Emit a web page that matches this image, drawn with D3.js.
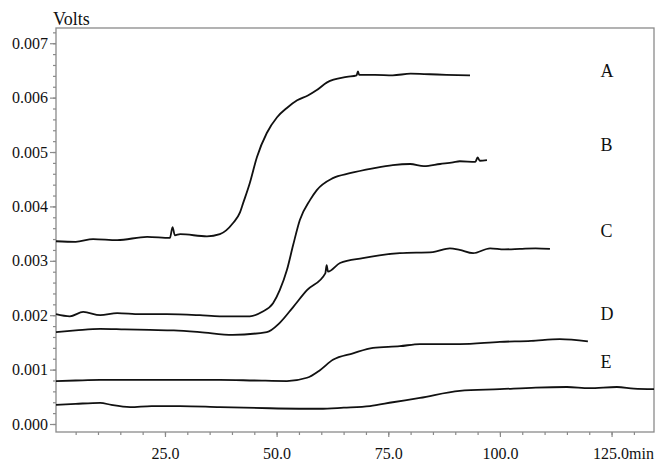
<!DOCTYPE html>
<html>
<head>
<meta charset="utf-8">
<script src="https://cdn.jsdelivr.net/npm/d3@7"></script>
<style>
  body { margin: 0; background: #fff; }
  text { font-family: "Liberation Serif", "DejaVu Serif", serif; fill: #111; }
</style>
</head>
<body>
<div class="chart-frame"></div>
<script>
// time in minutes, signal in millivolts (plotted as volts)
var seriesA = [[0.6,3.36],[5,3.35],[8.9,3.40],[14.3,3.38],[21,3.44],[26.1,3.42],[26.7,3.62],[27.2,3.47],
  [28.4,3.49],[34.4,3.45],[37.3,3.49],[40.2,3.69],[41.8,3.89],[42.5,4.06],[44,4.43],[45.6,4.91],
  [47.8,5.35],[50.1,5.64],[52.3,5.81],[54.6,5.95],[57,6.04],[59,6.14],[61.3,6.28],[65.7,6.38],
  [67.9,6.41],[68.2,6.48],[68.5,6.42],[72,6.42],[76,6.41],[80,6.44],[84.3,6.43],[88,6.42],[93.3,6.41]];
var seriesB = [[0.6,2.02],[3.7,1.98],[6.7,2.06],[10.5,2.00],[14.3,2.04],[19.4,2.02],[25.4,2.02],
  [32.8,2.00],[37.3,1.98],[44,1.98],[46.7,2.06],[49.2,2.22],[50.7,2.46],[52.3,2.83],[53.7,3.29],
  [55.2,3.75],[57.5,4.12],[59,4.30],[62.6,4.52],[66.4,4.61],[71.6,4.70],[76,4.76],[79.9,4.78],
  [83,4.74],[86.6,4.78],[89.5,4.81],[91,4.83],[94.5,4.82],[95,4.90],[95.5,4.84],[97.1,4.85]];
var seriesC = [[0.6,1.69],[5,1.72],[10.5,1.75],[16,1.74],[21.6,1.73],[27,1.72],[32.8,1.69],[40.2,1.64],
  [47.8,1.69],[50.7,1.86],[53.7,2.15],[56.8,2.46],[60.9,2.77],[61.2,2.92],[61.5,2.80],[64.2,2.96],
  [69.3,3.05],[73,3.10],[77.6,3.14],[85,3.16],[88.8,3.23],[91,3.20],[94,3.14],[97.8,3.23],
  [101,3.21],[104.5,3.22],[108,3.23],[111.2,3.22]];
var seriesD = [[0.6,0.79],[5,0.80],[10.5,0.81],[21.6,0.81],[37.3,0.81],[45,0.80],[52.3,0.79],[56.8,0.85],
  [59.7,0.99],[62.6,1.18],[67.1,1.30],[71.6,1.40],[77.6,1.43],[82.1,1.47],[91,1.47],[100,1.51],
  [107,1.53],[113.4,1.56],[119.7,1.52]];
var seriesE = [[0.6,0.35],[5,0.37],[10.5,0.39],[13,0.35],[17.2,0.31],[22,0.33],[28.4,0.33],[37.3,0.31],
  [48.5,0.29],[59.7,0.28],[65,0.30],[70.9,0.33],[76,0.40],[82.1,0.48],[91,0.61],[100,0.64],
  [108,0.67],[115,0.68],[120,0.66],[126.2,0.68],[130,0.65],[134.5,0.64]];

var curveNames = ["A", "B", "C", "D", "E"];
var labelSpots = [[122.5,6.375],[122.5,5.02],[122.5,3.44],[122.5,1.91],[122.5,1.03]];

var yTicks = [0, 0.001, 0.002, 0.003, 0.004, 0.005, 0.006, 0.007];
var xTicks = [25, 50, 75, 100, 125];
var xTickLabels = ["25.0", "50.0", "75.0", "100.0", "125.0min"];

var width = 657, height = 461;
var padL = 56, padR = 654, padT = 28, padB = 432;

var x = d3.scaleLinear().domain([0.6, 134.5]).range([padL, padR]);
var y = d3.scaleLinear().domain([-0.000147, 0.00728]).range([padB, padT]);

var svg = d3.select(".chart-frame")
    .append("svg")
    .attr("width", width)
    .attr("height", height);

// frame
svg.append("rect")
    .attr("x", padL)
    .attr("y", padT)
    .attr("width", padR - padL)
    .attr("height", padB - padT)
    .style("fill", "none")
    .style("stroke", "#8a8a8a")
    .style("stroke-width", 1.3);

// minor ticks
var yMinor = d3.range(0, 37).map(d => d * 0.0002);
var xMinor = d3.range(1, 27).map(d => d * 5);

svg.append("g")
    .attr("transform", `translate(${padL},0)`)
    .call(d3.axisLeft(y).tickValues(yMinor).tickSize(3).tickFormat(""))
    .call(g => g.select(".domain").remove())
    .selectAll("line").style("stroke", "#8a8a8a").style("stroke-width", 1.2);

svg.append("g")
    .attr("transform", `translate(0,${padB})`)
    .call(d3.axisBottom(x).tickValues(xMinor).tickSize(3).tickFormat(""))
    .call(g => g.select(".domain").remove())
    .selectAll("line").style("stroke", "#8a8a8a").style("stroke-width", 1.2);

// major ticks
var yAxis = svg.append("g")
    .attr("transform", `translate(${padL},0)`)
    .call(d3.axisLeft(y).tickValues(yTicks).tickSize(6).tickPadding(2).tickFormat(d3.format(".3f")))
    .call(g => g.select(".domain").remove());
yAxis.selectAll("line").style("stroke", "#8a8a8a").style("stroke-width", 1.2);
yAxis.selectAll("text")
    .style("font-family", '"Liberation Serif", serif')
    .style("font-size", "16px")
    .style("fill", "#111");

var xAxis = svg.append("g")
    .attr("transform", `translate(0,${padB})`)
    .call(d3.axisBottom(x).tickValues(xTicks).tickSize(5).tickPadding(0)
        .tickFormat((d, i) => xTickLabels[i]))
    .call(g => g.select(".domain").remove());
xAxis.selectAll("line").style("stroke", "#8a8a8a").style("stroke-width", 1.2);
xAxis.selectAll("text")
    .attr("y", 27)
    .attr("dy", 0)
    .style("font-family", '"Liberation Serif", serif')
    .style("font-size", "16px")
    .style("fill", "#111")
    .filter((d, i) => i == xTicks.length - 1)
    .attr("text-anchor", "start")
    .attr("x", -19);

svg.append("text")
    .attr("x", 53)
    .attr("y", 25)
    .style("font-size", "18px")
    .text("Volts");

// curves
var line = d3.line()
    .x(d => x(d[0]))
    .y(d => y(d[1] / 1000))
    .curve(d3.curveMonotoneX);

svg.selectAll(".trace")
    .data([seriesA, seriesB, seriesC, seriesD, seriesE])
    .join("path")
    .attr("class", "trace")
    .attr("d", line)
    .style("fill", "none")
    .style("stroke", "#111")
    .style("stroke-width", 1.8)
    .style("stroke-linejoin", "round");

svg.selectAll(".tag")
    .data(curveNames)
    .join("text")
    .attr("class", "tag")
    .attr("x", (d, i) => x(labelSpots[i][0]))
    .attr("y", (d, i) => y(labelSpots[i][1] / 1000))
    .style("font-size", "18px")
    .text(d => d);
</script>
</body>
</html>
